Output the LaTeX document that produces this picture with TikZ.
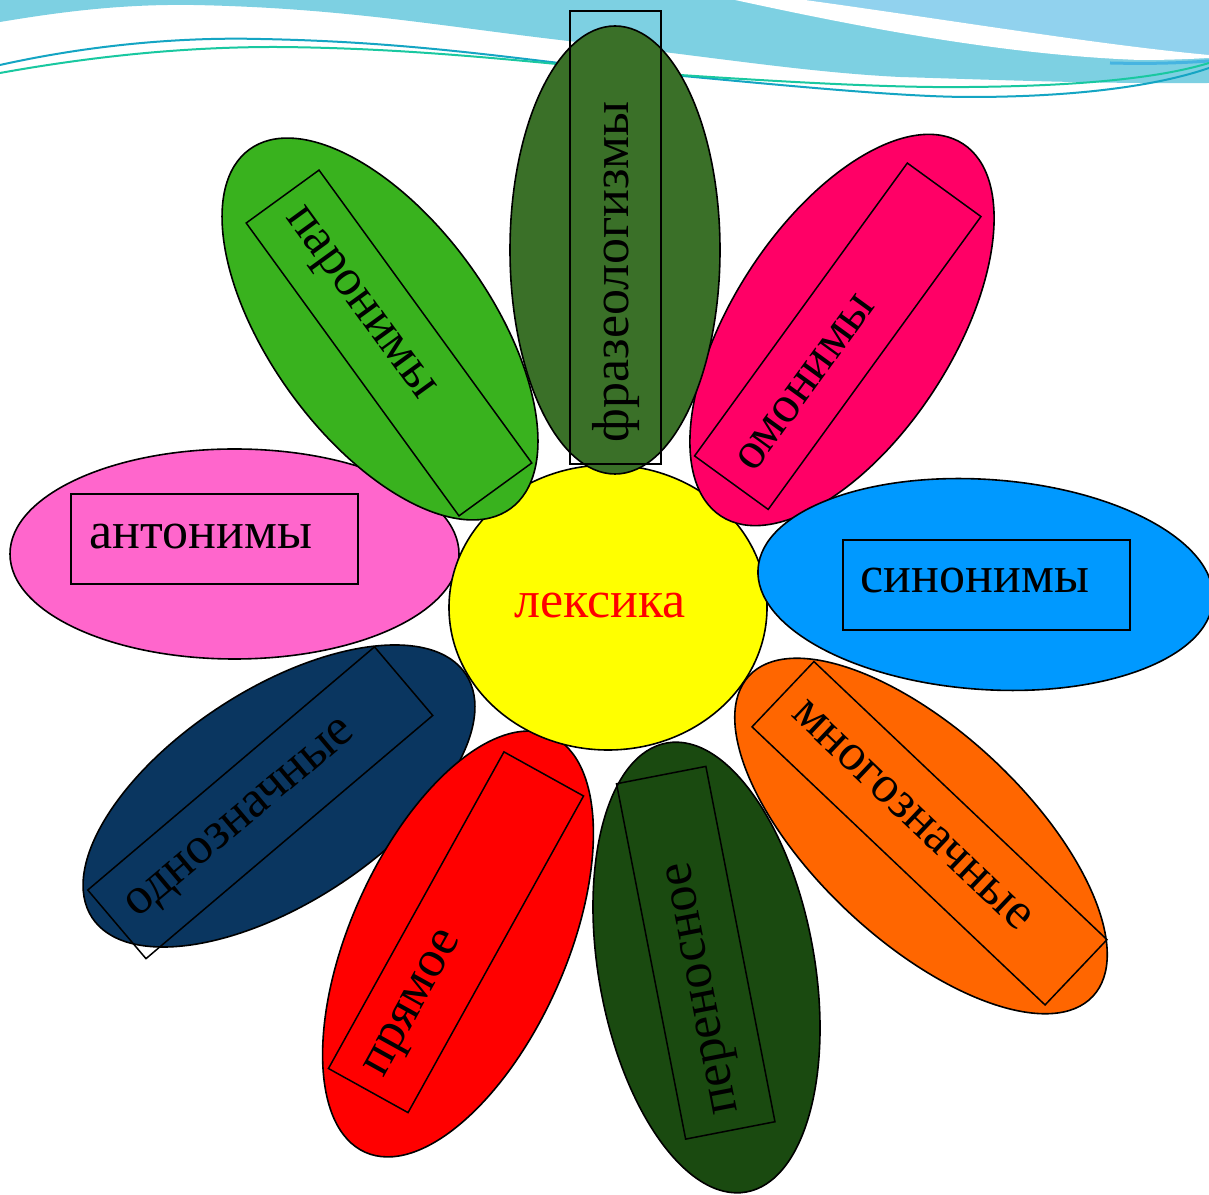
\documentclass[tikz,border=0pt]{standalone}
\usepackage{fontspec}
\setmainfont{Liberation Serif}
\usetikzlibrary{shapes.geometric}
\definecolor{cAnt}{RGB}{255,102,204}
\definecolor{cPar}{RGB}{57,178,30}
\definecolor{cFra}{RGB}{58,112,40}
\definecolor{cOmo}{RGB}{255,0,102}
\definecolor{cSin}{RGB}{0,153,255}
\definecolor{cMno}{RGB}{255,102,0}
\definecolor{cPer}{RGB}{26,74,16}
\definecolor{cPry}{RGB}{255,0,0}
\definecolor{cOdn}{RGB}{10,54,96}
\definecolor{cYel}{RGB}{255,255,0}
\definecolor{cRed}{RGB}{255,0,0}
\definecolor{cWave}{RGB}{125,208,226}
\definecolor{cWaveR}{RGB}{145,210,238}
\definecolor{cWaveD}{RGB}{70,180,225}
\definecolor{cTeal}{RGB}{20,165,195}
\definecolor{cMint}{RGB}{25,200,160}
\begin{document}
\begin{tikzpicture}[x=1pt,y=1pt,
  petal/.style={ellipse, draw=black, line width=1.6pt, inner sep=0pt},
  tbox/.style={draw=black, line width=1.5pt, inner sep=0pt},
  word/.style={inner sep=0pt, anchor=base, font=\fontsize{52}{62}\selectfont}]
\useasboundingbox (0,0) rectangle (1209,1194);
\fill[white] (0,0) rectangle (1209,1194);
% top waves
\begin{scope}[shift={(0,1194)}, yscale=-1]
  \fill[cWave] (0,0) -- (1209,0) -- (1209,83)
    .. controls (1100,84) and (1000,80) .. (900,77)
    .. controls (800,72) and (700,55) .. (586,43)
    .. controls (450,28) and (350,8) .. (193,5)
    .. controls (120,4) and (60,12) .. (0,22) -- cycle;
  \fill[cWaveR] (805,0) .. controls (950,20) and (1100,45) .. (1209,55) -- (1209,0) -- cycle;
  \fill[white] (735,0) .. controls (850,25) and (1000,55) .. (1140,60)
    .. controls (1170,60) and (1190,59) .. (1209,58) -- (1209,55)
    .. controls (1100,45) and (950,20) .. (805,0) -- cycle;
  \draw[cWaveD, line width=3pt] (1110,63) .. controls (1150,64) and (1180,63) .. (1209,61);
  \draw[cTeal, line width=2pt] (0,65) .. controls (90,45) and (180,37) .. (260,39)
    .. controls (420,42) and (520,60) .. (640,72)
    .. controls (780,85) and (900,97) .. (970,97)
    .. controls (1080,97) and (1160,85) .. (1209,68);
  \draw[cMint, line width=2pt] (0,73) .. controls (100,55) and (190,47) .. (275,47)
    .. controls (430,48) and (550,65) .. (680,75)
    .. controls (800,83) and (900,88) .. (970,87)
    .. controls (1080,86) and (1160,78) .. (1209,63);
\end{scope}
% antonimy
\node[petal, fill=cAnt, minimum width=449pt, minimum height=210pt] (antE) at (234.5,640) {};
\node[tbox, minimum width=287pt, minimum height=90pt] (antR) at (214.5,655) {};
\node[word] (antT) at (201,645) {антонимы};
% odnoznachnye
\node[petal, fill=cOdn, minimum width=446pt, minimum height=214pt, rotate=33] (odnE) at (279,398) {};
\node[tbox, minimum width=376pt, minimum height=90pt, rotate=40.3] (odnR) at (260.25,391.25) {};
\node[word, rotate=40] (odnT) at (247,367) {однозначные};
% pryamoe
\node[petal, fill=cPry, minimum width=456pt, minimum height=216pt, rotate=66] (pryE) at (458,250) {};
\node[tbox, minimum width=362pt, minimum height=91pt, rotate=61] (pryR) at (456,261.75) {};
\node[word, rotate=61] (pryT) at (422,186) {прямое};
% perenosnoe
\node[petal, fill=cPer, minimum width=456pt, minimum height=216pt, rotate=100] (perE) at (706.5,226.5) {};
\node[tbox, minimum width=362pt, minimum height=91pt, rotate=101] (perR) at (695.75,241.25) {};
\node[word, rotate=101] (perT) at (713,208) {переносное};
% mnogoznachnye
\node[petal, fill=cMno, minimum width=470pt, minimum height=210pt, rotate=-43] (mnoE) at (921,358) {};
\node[tbox, minimum width=404pt, minimum height=90pt, rotate=-43.5] (mnoR) at (929.5,360.75) {};
\node[word, rotate=-43.5] (mnoT) at (904,370) {многозначные};
% center
\node[petal, fill=cYel, minimum width=318pt, minimum height=285pt] (lexE) at (608,586.5) {};
\node[word, text=cRed] (lexT) at (600,576) {лексика};
% paronimy
\node[petal, fill=cPar, minimum width=444pt, minimum height=220pt, rotate=-54] (parE) at (380,865) {};
\node[tbox, minimum width=362pt, minimum height=90pt, rotate=-54] (parR) at (389,851) {};
\node[word, rotate=-54] (parT) at (352,885) {паронимы};
% omonimy
\node[petal, fill=cOmo, minimum width=444pt, minimum height=220pt, rotate=57] (omoE) at (842,864) {};
\node[tbox, minimum width=362pt, minimum height=91pt, rotate=54] (omoR) at (837.75,857.75) {};
\node[word, rotate=54] (omoT) at (815,804) {омонимы};
% sinonimy
\node[petal, fill=cSin, minimum width=456pt, minimum height=210pt, rotate=-4] (sinE) at (985.5,609.5) {};
\node[tbox, minimum width=287pt, minimum height=90pt] (sinR) at (986.5,609) {};
\node[word] (sinT) at (975,601) {синонимы};
% frazeologizmy
\node[petal, fill=cFra, minimum width=448pt, minimum height=210pt, rotate=90] (fraE) at (615,944) {};
\node[tbox, minimum width=453pt, minimum height=91pt, rotate=90] (fraR) at (615.5,956.5) {};
\node[word, rotate=90] (fraT) at (628,922) {фразеологизмы};
\end{tikzpicture}
\end{document}
